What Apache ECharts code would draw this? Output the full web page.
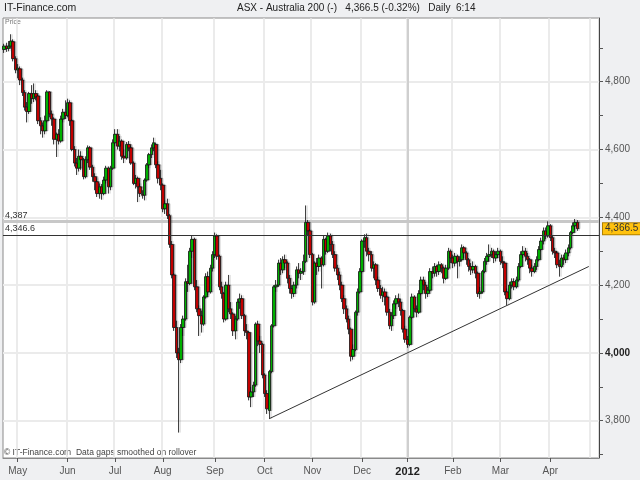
<!DOCTYPE html>
<html><head><meta charset="utf-8">
<script src="https://cdn.jsdelivr.net/npm/echarts@6/dist/echarts.min.js"></script>
<style>html,body{margin:0;padding:0;background:#eff0f2;}#c{width:640px;height:480px;}</style>
</head><body><div id="c"></div>
<script>
// Trading days per month (ASX), incl. a few future days to the right edge
const tradingDays = [
 ['2011-04',[19,20,21,27,28,29]],
 ['2011-05',[2,3,4,5,6,9,10,11,12,13,16,17,18,19,20,23,24,25,26,27,30,31]],
 ['2011-06',[1,2,3,6,7,8,9,10,14,15,16,17,20,21,22,23,24,27,28,29,30]],
 ['2011-07',[1,4,5,6,7,8,11,12,13,14,15,18,19,20,21,22,25,26,27,28,29]],
 ['2011-08',[1,2,3,4,5,8,9,10,11,12,15,16,17,18,19,22,23,24,25,26,29,30,31]],
 ['2011-09',[1,2,5,6,7,8,9,12,13,14,15,16,19,20,21,22,23,26,27,28,29,30]],
 ['2011-10',[3,4,5,6,7,10,11,12,13,14,17,18,19,20,21,24,25,26,27,28,31]],
 ['2011-11',[1,2,3,4,7,8,9,10,11,14,15,16,17,18,21,22,23,24,25,28,29,30]],
 ['2011-12',[1,2,5,6,7,8,9,12,13,14,15,16,19,20,21,22,23,28,29,30]],
 ['2012-01',[3,4,5,6,9,10,11,12,13,16,17,18,19,20,23,24,25,27,30,31]],
 ['2012-02',[1,2,3,6,7,8,9,10,13,14,15,16,17,20,21,22,23,24,27,28,29]],
 ['2012-03',[1,2,5,6,7,8,9,12,13,14,15,16,19,20,21,22,23,26,27,28,29,30]],
 ['2012-04',[2,3,4,5,10,11,12,13,16,17,18,19,20,23,24,26,27,30]],
 ['2012-05',[1,2,3,4]]
];
const opens = [4895,4905,4898,4905,4918,4868,4835,4838,4805,4768,
4725,4712,4765,4750,4765,4758,4685,4670,4655,4685,
4770,4705,4690,4630,4645,4625,4690,4710,4700,4738,
4685,4600,4560,4545,4580,4570,4520,4570,4605,4548,
4520,4505,4470,4490,4470,4510,4545,4490,4545,4620,
4645,4610,4625,4580,4575,4615,4605,4560,4500,4515,
4490,4468,4465,4510,4555,4585,4605,4615,4555,4515,
4495,4425,4440,4405,4320,4230,4075,4000,3980,4075,
4100,4210,4205,4300,4335,4195,4130,4110,4085,4165,
4225,4180,4250,4290,4345,4285,4195,4175,4100,4200,
4130,4115,4065,4100,4150,4160,4110,4065,4060,3870,
3885,3905,4085,4035,4025,3935,3880,3830,3945,4080,
4195,4200,4265,4245,4275,4265,4220,4190,4175,4200,
4245,4235,4240,4270,4385,4360,4290,4150,4265,4255,
4280,4260,4335,4300,4345,4320,4290,4250,4230,4200,
4160,4130,4100,4070,3990,4010,4120,4180,4240,4330,
4340,4300,4290,4250,4260,4215,4190,4170,4180,4165,
4120,4080,4110,4145,4160,4150,4125,4070,4040,4025,
4105,4165,4130,4120,4175,4215,4200,4175,4185,4240,
4235,4255,4240,4260,4250,4220,4250,4300,4280,4265,
4285,4270,4275,4310,4295,4275,4255,4245,4255,4235,
4175,4180,4240,4270,4285,4290,4300,4280,4290,4300,
4270,4265,4180,4160,4200,4210,4195,4215,4255,4290,
4300,4285,4275,4250,4240,4255,4275,4305,4330,4360,
4345,4375,4340,4300,4295,4260,4255,4280,4275,4295,
4310,4355,4375,4385];
const closes = [4905,4898,4905,4920,4868,4835,4840,4805,4768,4725,
4712,4765,4750,4765,4755,4685,4670,4655,4685,4770,
4705,4690,4630,4645,4625,4690,4710,4700,4738,4685,
4600,4560,4545,4580,4570,4520,4570,4605,4548,4520,
4505,4470,4490,4470,4510,4545,4490,4545,4620,4645,
4610,4625,4580,4575,4615,4605,4560,4500,4515,4490,
4470,4465,4510,4555,4585,4605,4620,4555,4515,4495,
4425,4440,4405,4320,4230,4075,4000,3980,4075,4100,
4210,4205,4300,4335,4195,4130,4110,4085,4165,4225,
4180,4250,4290,4345,4285,4195,4175,4100,4200,4130,
4115,4065,4100,4150,4160,4110,4065,4060,3870,3885,
3905,4085,4035,4025,3935,3880,3835,3945,4080,4195,
4200,4265,4245,4275,4265,4220,4190,4175,4200,4245,
4235,4240,4270,4385,4360,4290,4150,4265,4255,4280,
4260,4335,4300,4345,4320,4290,4250,4230,4200,4160,
4130,4100,4070,3990,4010,4120,4180,4240,4330,4340,
4300,4290,4250,4260,4215,4190,4170,4180,4165,4120,
4080,4110,4145,4160,4150,4125,4070,4040,4025,4105,
4165,4130,4120,4175,4215,4200,4175,4185,4240,4235,
4255,4240,4260,4250,4220,4250,4300,4280,4265,4285,
4270,4275,4310,4295,4275,4255,4245,4255,4235,4175,
4180,4240,4270,4285,4290,4300,4280,4290,4300,4270,
4265,4180,4160,4200,4210,4195,4215,4255,4290,4300,
4285,4275,4250,4240,4255,4275,4305,4330,4360,4345,
4375,4340,4300,4295,4260,4255,4280,4275,4295,4310,
4355,4375,4385,4366.5];
const lows = [4885,4888,4890,4898,4860,4825,4810,4790,4758,4715,
4680,4705,4735,4740,4745,4675,4645,4635,4645,4680,
4695,4670,4615,4578,4615,4620,4680,4690,4695,4670,
4595,4550,4525,4535,4540,4512,4515,4560,4540,4505,
4480,4460,4455,4452,4465,4500,4470,4480,4540,4610,
4600,4595,4570,4560,4570,4595,4555,4495,4485,4445,
4460,4455,4450,4505,4545,4575,4595,4545,4500,4480,
4415,4410,4395,4310,4220,4065,3985,3765,3970,4050,
4095,4180,4200,4280,4185,4120,4050,4060,4080,4160,
4170,4175,4240,4280,4275,4185,4160,4090,4095,4120,
4100,4050,4040,4095,4130,4100,4050,4040,3860,3840,
3870,3900,4020,4000,3925,3870,3820,3805,3940,4075,
4180,4195,4230,4235,4250,4205,4175,4160,4165,4190,
4220,4215,4230,4265,4345,4280,4140,4145,4230,4240,
4190,4255,4290,4295,4300,4280,4240,4215,4185,4150,
4115,4090,4055,3975,3980,4005,4110,4175,4235,4310,
4285,4270,4240,4220,4200,4180,4160,4150,4140,4110,
4070,4065,4100,4130,4135,4110,4060,4030,4015,4020,
4100,4120,4105,4115,4170,4185,4160,4165,4180,4220,
4225,4225,4230,4235,4205,4215,4245,4265,4250,4255,
4220,4255,4270,4280,4260,4240,4230,4235,4220,4165,
4160,4175,4235,4260,4270,4280,4265,4270,4280,4260,
4250,4170,4140,4155,4190,4185,4190,4210,4250,4280,
4270,4260,4235,4225,4235,4245,4270,4300,4320,4335,
4340,4330,4290,4280,4250,4225,4250,4260,4265,4285,
4305,4350,4365,4360];
const highs = [4912,4915,4920,4940,4925,4875,4852,4845,4812,4775,
4740,4770,4790,4795,4775,4762,4695,4680,4700,4775,
4772,4715,4695,4650,4660,4700,4720,4745,4750,4745,
4690,4610,4575,4600,4595,4575,4580,4612,4610,4555,
4530,4515,4500,4498,4520,4552,4550,4552,4630,4660,
4660,4640,4630,4600,4622,4625,4612,4565,4525,4520,
4500,4480,4515,4560,4590,4615,4635,4620,4565,4540,
4500,4450,4455,4410,4330,4235,4095,4015,4085,4110,
4220,4260,4310,4345,4340,4215,4140,4125,4170,4235,
4240,4260,4300,4355,4350,4290,4210,4180,4210,4230,
4150,4120,4110,4160,4175,4170,4115,4085,4065,3900,
3915,4090,4095,4050,4030,3940,3890,3950,4085,4200,
4215,4275,4280,4285,4290,4270,4230,4200,4210,4255,
4265,4250,4290,4435,4392,4365,4295,4270,4280,4290,
4285,4345,4340,4355,4352,4330,4300,4260,4240,4210,
4170,4140,4110,4075,4025,4125,4190,4250,4335,4350,
4352,4310,4300,4270,4265,4225,4200,4195,4190,4170,
4130,4120,4155,4170,4175,4160,4130,4080,4050,4110,
4175,4170,4140,4185,4225,4225,4210,4195,4250,4255,
4265,4260,4270,4265,4255,4260,4310,4305,4290,4295,
4290,4285,4320,4315,4300,4280,4265,4270,4260,4240,
4195,4245,4280,4295,4320,4310,4305,4300,4310,4305,
4285,4270,4190,4210,4220,4220,4225,4265,4300,4315,
4310,4295,4280,4260,4265,4285,4315,4340,4370,4370,
4388,4380,4345,4310,4300,4275,4290,4290,4305,4320,
4360,4385,4395,4392];
const yTickValues = [3700,3800,3900,4000,4100,4200,4300,4400,4500,4600,4700,4800,4900];
const yLabelValues = [3800,4000,4200,4400,4600,4800];
const monthNames = ['Jan','Feb','Mar','Apr','May','Jun','Jul','Aug','Sep','Oct','Nov','Dec'];
const resistanceHigh = 4387;
const resistanceLow = 4346.6;
const lastPrice = 4366.5;
const trendStart = ['2011-10-05', 3806];
const trendEnd = ['2012-04-30', 4255];

const dates = [];
tradingDays.forEach(([m, ds]) => ds.forEach(d => dates.push(m + '-' + String(d).padStart(2,'0'))));
const candles = opens.map((o, i) => [o, closes[i], lows[i], highs[i]]);
const isMonthStart = i => i > 0 && dates[i].slice(0,7) !== dates[i-1].slice(0,7);
const lastIdx = closes.length - 1;
const fmt = v => v.toLocaleString('en-US');
const font = 'Liberation Sans, Arial, sans-serif';

const chart = echarts.init(document.getElementById('c'));
chart.setOption({
  backgroundColor: '#eff0f2',
  animation: false,
  grid: {left: 3, right: 41, top: 18, bottom: 22, show: true, backgroundColor: '#ffffff', borderColor: '#8a8a8a', borderWidth: 1},
  xAxis: {
    type: 'category', data: dates, boundaryGap: true,
    axisLine: {show: true, lineStyle: {color: '#8a8a8a'}},
    axisTick: {show: true, alignWithLabel: true, length: 4, interval: (i) => isMonthStart(i) && i <= lastIdx, lineStyle: {color: '#555'}},
    axisLabel: {
      interval: (i) => isMonthStart(i) && i <= lastIdx, margin: 8, fontSize: 10, color: '#555', fontFamily: font,
      formatter: (v) => { const m = +v.slice(5,7); return m === 1 ? '{b|' + v.slice(0,4) + '}' : '{n|' + monthNames[m - 1] + '}'; },
      rich: {b: {fontWeight: 'bold', fontSize: 11, color: '#222', fontFamily: font}, n: {fontSize: 10, color: '#555', fontFamily: font}}
    },
    splitLine: {show: true, interval: (i) => isMonthStart(i), lineStyle: {color: '#e4e4e4', width: 1.5}}
  },
  yAxis: {
    type: 'value', position: 'right', min: 3690, max: 4988,
    axisLine: {show: true, lineStyle: {color: '#444'}},
    axisTick: {show: true, length: 4, customValues: yTickValues, lineStyle: {color: '#555'}},
    axisLabel: {
      customValues: yLabelValues, margin: 6, fontSize: 10, color: '#555', fontFamily: font,
      formatter: (v) => v % 1000 === 0 ? '{b|' + fmt(v) + '}' : fmt(v),
      rich: {b: {fontWeight: 'bold', fontSize: 10, color: '#222', fontFamily: font}}
    },
    splitLine: {show: false}
  },
  series: [
    {
      type: 'line', data: [], z: 1, silent: true,
      markLine: {
        silent: true, symbol: 'none', animation: false, z: 1,
        data: [
          ...yLabelValues.map(v => ({yAxis: v, lineStyle: {color: '#ebebeb', width: 2, type: 'solid'}, label: {show: false}})),
          {xAxis: '2012-01-03', lineStyle: {color: '#cfcfcf', width: 2, type: 'solid'}, label: {show: false}},
          {yAxis: resistanceHigh, lineStyle: {color: '#c8c8c8', width: 3, type: 'solid'},
           label: {show: true, position: 'insideStartTop', distance: 2, formatter: fmt(resistanceHigh), fontSize: 9, color: '#333', fontFamily: font}}
        ]
      }
    },
    {
      type: 'candlestick', data: candles, z: 3, barWidth: 3,
      itemStyle: {color: '#00c400', color0: '#d80000', borderColor: '#111', borderColor0: '#111', borderWidth: 0.8,
        shadowColor: 'rgba(0,0,0,0.25)', shadowOffsetX: 1.5, shadowBlur: 0},
      markLine: {
        silent: true, symbol: 'none', animation: false,
        data: [
          {yAxis: resistanceLow, lineStyle: {color: '#333', width: 1, type: 'solid'},
           label: {show: true, position: 'insideStartTop', distance: 2, formatter: fmt(resistanceLow), fontSize: 9, color: '#333', fontFamily: font}},
          {yAxis: lastPrice, lineStyle: {color: 'rgba(0,0,0,0)', width: 0},
           label: {show: true, position: 'end', distance: 4, formatter: fmt(lastPrice), fontSize: 10, color: '#333', fontFamily: font,
                   backgroundColor: '#ffc20e', borderColor: '#b08000', borderWidth: 1, padding: [1, 2, 0, 2]}},
          [{coord: trendStart, lineStyle: {color: '#333', width: 1, type: 'solid'}, label: {show: false}}, {coord: trendEnd}]
        ]
      }
    }
  ],
  graphic: [
    {type: 'text', left: 4, top: 3, style: {text: 'IT-Finance.com', fontSize: 10.5, fill: '#222', fontFamily: font}},
    {type: 'text', left: 237, top: 3, style: {text: 'ASX - Australia 200 (-)   4,366.5 (-0.32%)   Daily  6:14', fontSize: 10, fill: '#222', fontFamily: font}},
    {type: 'text', left: 5, top: 19, style: {text: 'Price', fontSize: 7, fill: '#777', fontFamily: font}},
    {type: 'text', left: 4, top: 448, style: {text: '\u00a9 IT-Finance.com  Data gaps smoothed on rollover', fontSize: 8.5, fill: '#444', fontFamily: font}}
  ]
});
</script></body></html>
